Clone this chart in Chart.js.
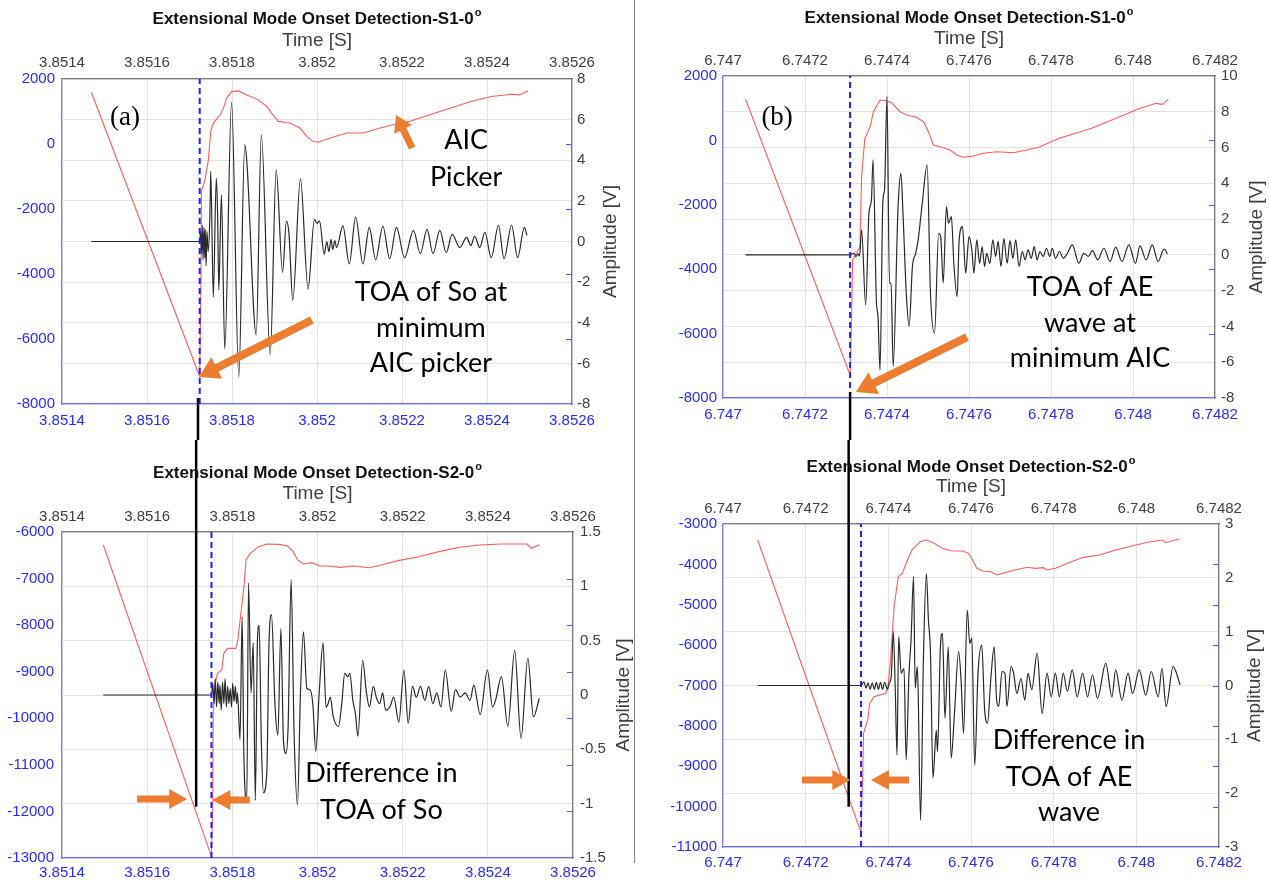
<!DOCTYPE html>
<html>
<head>
<meta charset="utf-8">
<script src="https://cdn.jsdelivr.net/npm/chart.js@4.4.1/dist/chart.umd.min.js"></script>
<style>
  html, body { margin: 0; padding: 0; background: #fff; }
  body { width: 1269px; height: 881px; position: relative; overflow: hidden; }
  canvas { position: absolute; }
  #sep { position: absolute; left: 634px; top: 0; width: 1px; height: 863px; background: #8a8a8a; }
</style>
</head>
<body>
<canvas id="ca" width="634" height="440" style="left:0;top:0"></canvas>
<canvas id="cb" width="629" height="440" style="left:640px;top:0"></canvas>
<canvas id="cc" width="634" height="441" style="left:0;top:440px"></canvas>
<canvas id="cd" width="629" height="441" style="left:640px;top:440px"></canvas>
<div id="sep"></div>
<script>
// time origin of each column, offsets below are in microseconds after it
const T0_LEFT = 3.8514;
const T0_RIGHT = 6.747;

const timeTicksLeft = [3.8514, 3.8516, 3.8518, 3.852, 3.8522, 3.8524, 3.8526];
const timeTicksRight = [6.747, 6.7472, 6.7474, 6.7476, 6.7478, 6.748, 6.7482];

const aicTicksA = [-8000, -6000, -4000, -2000, 0, 2000];
const ampTicksA = [-8, -6, -4, -2, 0, 2, 4, 6, 8];
const aicTicksB = [-8000, -6000, -4000, -2000, 0, 2000];
const ampTicksB = [-8, -6, -4, -2, 0, 2, 4, 6, 8, 10];
const aicTicksC = [-13000, -12000, -11000, -10000, -9000, -8000, -7000, -6000];
const ampTicksC = [-1.5, -1, -0.5, 0, 0.5, 1, 1.5];
const aicTicksD = [-11000, -10000, -9000, -8000, -7000, -6000, -5000, -4000, -3000];
const ampTicksD = [-3, -2, -1, 0, 1, 2, 3];

// AIC picker curves  [us, AIC]
const aicA = [[69,1592],[324,-7154],[327,-4197],[328,-1446],[336,-1140],[344,-528],[350,389],[356,644],[372,899],[380,1103],[387,1409],[399,1613],[415,1633],[435,1511],[462,1358],[482,1154],[493,950],[509,695],[536,644],[560,491],[576,236],[590,83],[603,53],[631,186],[670,338],[709,338],[748,491],[779,593],[817,695],[865,899],[913,1103],[962,1307],[1010,1460],[1058,1531],[1077,1511],[1096,1633]];
const aicB = [[55,1276],[310,-7284],[314,-5268],[316,-3715],[334,-3302],[338,-1127],[346,65],[359,426],[367,891],[383,1255],[399,1233],[411,1171],[432,891],[448,789],[472,717],[489,581],[501,270],[513,-143],[529,-196],[554,-298],[570,-454],[586,-525],[610,-485],[635,-401],[668,-351],[708,-382],[741,-298],[773,-196],[820,65],[860,220],[899,375],[938,582],[978,789],[1017,996],[1056,1151],[1071,1120],[1086,1276]];
const aicC = [[97,-6279],[351,-12971],[354,-11897],[355,-9893],[360,-9249],[365,-9035],[375,-8963],[380,-8605],[389,-8498],[408,-8498],[413,-8319],[428,-7102],[432,-6601],[442,-6458],[461,-6315],[481,-6258],[510,-6265],[529,-6301],[543,-6422],[553,-6601],[567,-6687],[587,-6658],[606,-6730],[625,-6730],[654,-6759],[683,-6730],[721,-6766],[750,-6709],[789,-6615],[837,-6530],[885,-6422],[933,-6329],[982,-6279],[1030,-6258],[1068,-6258],[1092,-6258],[1102,-6351],[1121,-6272]];
const aicD = [[84,-3396],[334,-10646],[338,-9176],[340,-8185],[350,-7855],[355,-7442],[365,-7277],[380,-7236],[394,-7195],[399,-7029],[404,-6534],[414,-5048],[424,-4305],[434,-4222],[443,-3974],[457,-3644],[477,-3438],[492,-3396],[511,-3479],[531,-3603],[550,-3661],[580,-3669],[594,-3727],[604,-3892],[614,-4098],[628,-4164],[648,-4181],[663,-4263],[677,-4222],[706,-4140],[736,-4073],[755,-4098],[775,-4082],[784,-4140],[804,-4098],[843,-3933],[872,-3826],[911,-3768],[950,-3644],[989,-3545],[1028,-3454],[1062,-3396],[1072,-3462],[1087,-3413],[1104,-3372]];

// waveforms  [us, amplitude V]
const waveA = [[69,0],[324,0],[326,0.5],[328,-0.6],[330,0.8],[332,-0.9],[334,0.7],[336,-0.8],[337,0.6],[339,-1.2],[341,0.5],[344,-0.5],[348,1.3],[350,3.46],[356,-2.74],[363,3.13],[366,1.5],[369,-2.4],[375,2.3],[383,-5.27],[399,6.85],[416,-6.66],[430,4.77],[435,3.9],[457,-4.6],[469,5.25],[490,-5.56],[504,3.54],[519,-1.52],[528,1.0],[534,0.4],[543,-2.9],[561,3.1],[579,-2.33],[594,1.09],[600,0.9],[606,1.0],[617,-0.62],[623,0.0],[628,-0.5],[633,0.1],[637,-0.4],[642,0.05],[646,-0.3],[661,0.77],[676,-1.1],[691,1.2],[708,-1.1],[723,0.7],[738,-0.9],[755,0.75],[771,-0.85],[787,0.7],[806,-0.8],[827,0.55],[843,-0.6],[859,0.6],[873,-0.6],[889,0.55],[904,-0.55],[918,0.35],[936,-0.3],[952,0.2],[962,-0.2],[971,0.25],[983,-0.3],[995,0.45],[1010,-0.8],[1027,0.8],[1040,-0.85],[1058,0.8],[1072,-0.8],[1088,0.7],[1094,0.3]];
const waveB = [[55,0],[309,0],[319,0.09],[324,-0.09],[329,0.06],[333,-0.06],[338,1.4],[348,-2.8],[356,2.33],[362,3.07],[366,5.31],[374,-2.52],[378,-3.45],[383,-6.43],[390,3.07],[394,3.63],[400,8.85],[406,-1.58],[410,-1.58],[415,-6.24],[427,2.7],[434,4.56],[439,2.33],[447,-2.14],[454,-4.0],[462,-0.65],[470,0.09],[476,0.84],[486,2.89],[498,5.03],[506,-2.14],[516,-4.38],[526,1.21],[531,1.02],[537,-1.58],[545,2.7],[550,1.77],[557,2.14],[563,-0.47],[571,-2.33],[576,0.84],[584,1.58],[592,-1.02],[600,1.02],[607,0.28],[612,-1.02],[619,0.84],[626,-0.47],[632,0.47],[638,-0.65],[643,0.09],[651,-0.47],[658,0.84],[665,-0.09],[671,0.75],[678,-0.65],[685,0.93],[693,-0.47],[700,0.8],[707,-0.19],[714,0.84],[722,-0.65],[730,0.19],[737,-0.28],[744,0.28],[752,-0.19],[759,0.47],[766,-0.28],[773,0.19],[781,-0.09],[789,0.37],[797,-0.09],[803,0.37],[811,-0.19],[821,0.19],[830,-0.19],[840,0.09],[852,0.56],[868,-0.47],[880,0.09],[891,-0.09],[901,0.24],[914,-0.28],[929,0.37],[944,-0.37],[958,0.43],[973,-0.37],[990,0.56],[1006,-0.47],[1017,0.5],[1032,-0.28],[1047,0.56],[1061,-0.37],[1076,0.32],[1084,0.06]];
const waveC = [[97,0],[351,0],[354,0.11],[357,-0.08],[360,0.15],[363,-0.11],[366,0.12],[369,-0.08],[371,0.09],[374,-0.14],[377,0.12],[380,-0.08],[383,0.15],[386,-0.11],[389,0.08],[392,-0.08],[395,0.06],[398,-0.11],[401,0.11],[404,-0.06],[407,0.08],[410,-0.08],[412,0.02],[418,-0.41],[423,0.72],[427,-0.54],[434,-0.97],[438,1.03],[444,0.02],[449,0.48],[454,-0.97],[459,0.51],[463,0.64],[468,-0.41],[473,-0.9],[481,-0.71],[486,0.46],[492,0.74],[500,-0.08],[507,-0.37],[514,0.61],[520,-0.41],[526,-0.54],[531,-0.29],[538,1.06],[545,-0.35],[553,-1.01],[560,0.02],[567,0.58],[575,0.06],[582,0.05],[589,-0.08],[596,-0.52],[604,0.02],[613,0.48],[620,-0.11],[625,-0.08],[630,-0.02],[637,-0.2],[649,-0.29],[657,-0.08],[664,0.2],[671,0.17],[676,0.2],[683,-0.05],[689,-0.17],[695,-0.38],[706,0.32],[715,0.02],[722,-0.11],[731,0.08],[738,-0.02],[746,-0.08],[753,0.02],[760,-0.14],[770,-0.11],[779,-0.02],[791,-0.25],[803,0.23],[813,-0.26],[823,0.08],[832,-0.02],[842,0.08],[852,-0.05],[861,0.08],[871,-0.08],[880,0.02],[890,-0.11],[900,0.23],[914,-0.15],[924,0.05],[935,-0.02],[947,0.02],[958,-0.05],[967,0.09],[982,-0.18],[999,0.23],[1011,-0.11],[1018,-0.05],[1032,0.17],[1047,-0.29],[1063,0.41],[1078,-0.4],[1094,0.34],[1107,-0.2],[1121,-0.03]];
const waveD = [[84,0],[334,0],[341,0.07],[346,-0.05],[351,0.05],[356,-0.07],[361,0.05],[366,-0.07],[371,0.06],[376,-0.07],[381,0.06],[386,-0.07],[391,0.06],[398,-0.07],[402,0.04],[407,0.16],[412,1.0],[417,-0.15],[421,-1.29],[425,0.91],[431,0.23],[438,0.32],[443,-1.38],[450,0.23],[455,0.85],[461,2.02],[465,-0.05],[470,0.35],[472,-0.05],[478,-2.5],[485,0.54],[492,2.08],[497,1.22],[502,0.6],[508,-1.72],[516,-0.83],[519,-1.23],[526,0.72],[531,0.97],[537,-0.61],[545,0.72],[552,-1.35],[560,-0.52],[570,0.63],[576,0.1],[582,-0.89],[591,1.4],[597,0.78],[602,0.88],[609,-1.48],[617,0.23],[626,0.75],[633,-0.45],[640,-0.7],[648,0.13],[656,0.72],[662,-0.27],[667,-0.39],[675,0.26],[682,0.23],[687,-0.39],[697,0.35],[703,0.23],[711,-0.15],[721,0.13],[730,-0.27],[738,0.23],[747,-0.08],[760,0.6],[772,-0.52],[784,0.23],[794,-0.21],[804,0.23],[814,-0.21],[823,0.23],[833,-0.11],[845,0.29],[857,-0.21],[870,0.23],[882,-0.21],[894,0.2],[906,-0.24],[926,0.41],[941,-0.21],[950,0.29],[965,-0.27],[980,0.23],[991,-0.15],[1007,0.29],[1023,-0.18],[1036,0.26],[1053,-0.21],[1062,0.32],[1072,-0.39],[1089,0.35],[1106,0.01]];

// picked onsets (us)
const pickA = 324, pickB = 310, pickC = 351, pickD = 334;

const TITLE_S1 = 'Extensional Mode Onset Detection-S1-0';
const TITLE_S2 = 'Extensional Mode Onset Detection-S2-0';

const BLUE = '#2a2aff';
const GRAY = '#404040';
const ORANGE = '#ed7d31';

function fmtTime(v) { return parseFloat(v.toFixed(4)).toString(); }

function drawArrow(ctx, x1, y1, x2, y2, shaft, head, half) {
  const ang = Math.atan2(y2 - y1, x2 - x1);
  const c = Math.cos(ang), s = Math.sin(ang);
  const bx = x2 - head * c, by = y2 - head * s;
  ctx.save();
  ctx.strokeStyle = ORANGE; ctx.fillStyle = ORANGE;
  ctx.lineWidth = shaft; ctx.lineCap = 'butt';
  ctx.beginPath(); ctx.moveTo(x1, y1); ctx.lineTo(bx + c, by + s); ctx.stroke();
  ctx.beginPath();
  ctx.moveTo(x2, y2);
  ctx.lineTo(bx + half * s, by - half * c);
  ctx.lineTo(bx - half * s, by + half * c);
  ctx.closePath(); ctx.fill();
  ctx.restore();
}

const overlay = {
  id: 'overlay',
  afterDatasetsDraw(chart, args, p) {
    const ctx = chart.ctx, a = chart.chartArea;
    const xs = chart.scales.x, ys = chart.scales.y;
    const px = us => xs.getPixelForValue(p.t0 + us / 1e6);
    const py = v => ys.getPixelForValue(v);
    // left-axis tick marks repeated on the right edge
    ctx.save();
    ctx.strokeStyle = '#5a5aff'; ctx.lineWidth = 1;
    p.aicTicks.slice(1, -1).forEach(v => {
      const y = Math.round(py(v)) + 0.5;
      ctx.beginPath(); ctx.moveTo(a.right, y); ctx.lineTo(a.right - 6, y); ctx.stroke();
    });
    ctx.restore();
    // black connector line between the upper and lower panels
    if (p.cut) {
      const x = px(p.cut.us);
      const y1 = p.cut.down ? a.bottom - 6 : 0;
      const y2 = p.cut.down ? chart.height : py(p.cut.v);
      ctx.save(); ctx.strokeStyle = '#000'; ctx.lineWidth = 2.5;
      ctx.beginPath(); ctx.moveTo(x, y1); ctx.lineTo(x, y2); ctx.stroke();
      ctx.restore();
    }
    (p.arrows || []).forEach(ar => {
      drawArrow(ctx, px(ar[0]), py(ar[1]), px(ar[2]), py(ar[3]), ar[4], ar[5], ar[6]);
    });
    ctx.save();
    ctx.fillStyle = '#000'; ctx.textAlign = 'center'; ctx.textBaseline = 'middle';
    (p.texts || []).forEach(t => {
      ctx.font = t.font || '27px Lato';
      ctx.fillText(t.s, px(t.us), py(t.v));
    });
    ctx.restore();
  },
  afterDraw(chart, args, p) {
    const ctx = chart.ctx, a = chart.chartArea;
    const cx = (a.left + a.right) / 2;
    ctx.save();
    // title with superscript o
    ctx.font = 'bold 17px "Liberation Sans"';
    const w1 = ctx.measureText(p.title).width;
    ctx.font = 'bold 11px "Liberation Sans"';
    const w2 = ctx.measureText('o').width;
    const x0 = cx - (w1 + w2 + 1) / 2;
    ctx.fillStyle = '#111'; ctx.textBaseline = 'alphabetic'; ctx.textAlign = 'left';
    ctx.font = 'bold 17px "Liberation Sans"';
    ctx.fillText(p.title, x0, p.titleY + 6);
    ctx.font = 'bold 11px "Liberation Sans"';
    ctx.fillText('o', x0 + w1 + 1, p.titleY - 2);
    // axis titles
    ctx.fillStyle = GRAY; ctx.textAlign = 'center'; ctx.textBaseline = 'middle';
    ctx.font = '19px "Liberation Sans"';
    ctx.fillText('Time [S]', cx, p.timeY);
    ctx.translate(p.ampX, (a.top + a.bottom) / 2);
    ctx.rotate(-Math.PI / 2);
    ctx.fillText('Amplitude [V]', 0, 0);
    ctx.restore();
  }
};

function makeChart(id, p) {
  const toX = us => p.t0 + us / 1e6;
  const pts = arr => arr.map(d => ({ x: toX(d[0]), y: d[1] }));
  const tickFont = { family: 'Liberation Sans', size: 15 };
  const setTicks = arr => s => { s.ticks = arr.map(v => ({ value: v })); };
  const xMin = p.xTicks[0], xMax = p.xTicks[p.xTicks.length - 1];
  const yMin = p.aicTicks[0], yMax = p.aicTicks[p.aicTicks.length - 1];
  return new Chart(document.getElementById(id), {
    type: 'line',
    data: {
      datasets: [
        { data: [{ x: toX(p.pick), y: yMin }, { x: toX(p.pick), y: yMax }], yAxisID: 'y',
          borderColor: '#1e1eff', borderWidth: 2, borderDash: [6, 4], pointRadius: 0 },
        { data: pts(p.wave), yAxisID: 'y2', borderColor: '#2a2a2a', borderWidth: 1.2,
          pointRadius: 0, cubicInterpolationMode: 'monotone' },
        { data: pts(p.aic), yAxisID: 'y', borderColor: '#ff5c5c', borderWidth: 1.1, pointRadius: 0 }
      ]
    },
    options: {
      responsive: false,
      animation: false,
      layout: { padding: 0 },
      plugins: {
        legend: { display: false },
        tooltip: { enabled: false },
        overlay: p.over
      },
      scales: {
        x: {
          type: 'linear', position: 'bottom', min: xMin, max: xMax,
          afterBuildTicks: setTicks(p.xTicks),
          afterFit: s => { s.height = p.box.bottom; },
          grid: { color: '#e3e3e3', drawTicks: false },
          border: { color: '#6b6bff', width: 1.2 },
          ticks: { color: BLUE, font: tickFont, padding: p.pad.bottom, maxRotation: 0, autoSkip: false, callback: fmtTime }
        },
        x2: {
          type: 'linear', position: 'top', min: xMin, max: xMax,
          afterBuildTicks: setTicks(p.xTicks),
          afterFit: s => { s.height = p.box.top; },
          grid: { drawOnChartArea: false, drawTicks: false },
          border: { color: '#7a7a7a', width: 1.2 },
          ticks: { color: GRAY, font: tickFont, padding: p.pad.top, maxRotation: 0, autoSkip: false, callback: fmtTime }
        },
        y: {
          type: 'linear', position: 'left', min: yMin, max: yMax,
          afterBuildTicks: setTicks(p.aicTicks),
          afterFit: s => { s.width = p.box.left; },
          grid: { drawOnChartArea: false, drawTicks: false },
          border: { color: '#7a7aff', width: 1.2 },
          ticks: { color: BLUE, font: tickFont, padding: p.pad.left, callback: v => String(v) }
        },
        y2: {
          type: 'linear', position: 'right', min: p.ampTicks[0], max: p.ampTicks[p.ampTicks.length - 1],
          afterBuildTicks: setTicks(p.ampTicks),
          afterFit: s => { s.width = p.box.right; },
          grid: { color: '#e3e3e3', drawTicks: false },
          border: { color: '#7a7a7a', width: 1.2 },
          ticks: { color: GRAY, font: tickFont, padding: p.pad.right, callback: v => String(v) }
        }
      }
    },
    plugins: [overlay]
  });
}

makeChart('ca', {
  t0: T0_LEFT, xTicks: timeTicksLeft, aicTicks: aicTicksA, ampTicks: ampTicksA,
  aic: aicA, wave: waveA, pick: pickA,
  box: { left: 62, right: 62, top: 79, bottom: 36 },
  pad: { left: 7, right: 5, top: 7, bottom: 8 },
  over: {
    t0: T0_LEFT, aicTicks: aicTicksA, title: TITLE_S1, titleY: 18, timeY: 41, ampX: 611,
    cut: { us: 320, down: true },
    arrows: [[824, -123, 786, 892, 7, 16, 10], [588, -5415, 322, -7169, 8, 20, 12]],
    texts: [
      { s: '(a)', us: 148, v: 800, font: '27px "Liberation Serif"' },
      { s: 'AIC', us: 951, v: 123 }, { s: 'Picker', us: 951, v: -1015 },
      { s: 'TOA of So at', us: 868, v: -4554 }, { s: 'minimum', us: 868, v: -5662 },
      { s: 'AIC picker', us: 868, v: -6739 }
    ]
  }
});

makeChart('cb', {
  t0: T0_RIGHT, xTicks: timeTicksRight, aicTicks: aicTicksB, ampTicks: ampTicksB,
  aic: aicB, wave: waveB, pick: pickB,
  box: { left: 83, right: 54, top: 76, bottom: 42 },
  pad: { left: 6, right: 6, top: 6, bottom: 8 },
  over: {
    t0: T0_RIGHT, aicTicks: aicTicksB, title: TITLE_S1, titleY: 17, timeY: 39, ampX: 617,
    cut: { us: 310, down: true },
    arrows: [[595, -6107, 324, -7815, 8, 20, 12]],
    texts: [
      { s: '(b)', us: 132, v: 696, font: '27px "Liberation Serif"' },
      { s: 'TOA of AE', us: 895, v: -4553 }, { s: 'wave at', us: 895, v: -5672 },
      { s: 'minimum AIC', us: 895, v: -6759 }
    ]
  }
});

makeChart('cc', {
  t0: T0_LEFT, xTicks: timeTicksLeft, aicTicks: aicTicksC, ampTicks: ampTicksC,
  aic: aicC, wave: waveC, pick: pickC,
  box: { left: 62, right: 61, top: 92, bottom: 23 },
  pad: { left: 8, right: 7, top: 6, bottom: 6 },
  over: {
    t0: T0_LEFT, aicTicks: aicTicksC, title: TITLE_S2, titleY: 32, timeY: 54, ampX: 624,
    cut: { us: 315, down: false, v: -11900 },
    arrows: [[176, -11733, 294, -11733, 7, 18, 10], [441, -11754, 353, -11754, 7, 18, 10]],
    texts: [
      { s: 'Difference in', us: 750, v: -11174 }, { s: 'TOA of So', us: 750, v: -11969 }
    ]
  }
});

makeChart('cd', {
  t0: T0_RIGHT, xTicks: timeTicksRight, aicTicks: aicTicksD, ampTicks: ampTicksD,
  aic: aicD, wave: waveD, pick: pickD,
  box: { left: 83, right: 50, top: 84, bottom: 34 },
  pad: { left: 6, right: 6, top: 6, bottom: 7 },
  over: {
    t0: T0_RIGHT, aicTicks: aicTicksD, title: TITLE_S2, titleY: 26, timeY: 47, ampX: 615,
    cut: { us: 304, down: false, v: -10000 },
    arrows: [[191, -9341, 308, -9341, 7, 18, 10], [450, -9341, 358, -9341, 7, 18, 10]],
    texts: [
      { s: 'Difference in', us: 837, v: -8350 }, { s: 'TOA of AE', us: 837, v: -9267 },
      { s: 'wave', us: 837, v: -10134 }
    ]
  }
});
</script>
</body>
</html>
